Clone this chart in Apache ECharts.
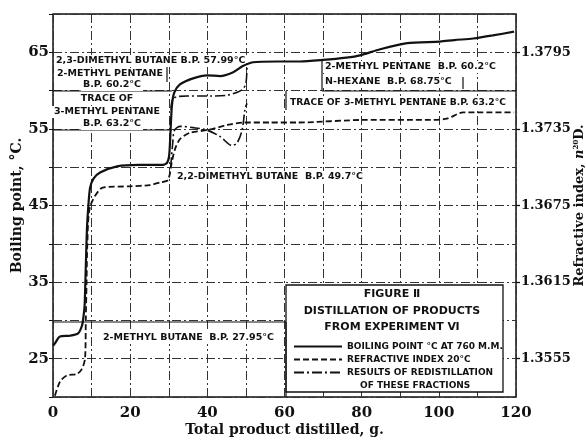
<!DOCTYPE html>
<html>
<head>
<meta charset="utf-8">
<script src="https://cdn.jsdelivr.net/npm/echarts@6/dist/echarts.min.js"></script>
<style>
  html, body { margin: 0; padding: 0; background: #fff; }
  #chart { width: 586px; height: 441px; }
</style>
</head>
<body>
<div id="chart"></div>
<script>
// boiling point (solid), grams distilled vs °C
const gBoil = [0, 0.5, 1.8, 4.4, 6.5, 7.5, 7.9, 8.2, 8.5, 8.8, 9.1, 9.6, 10.5, 12.2, 16.6, 22, 28.5, 29.6, 30.1, 30.4, 30.8, 31.4, 32.9, 36.3, 39.9, 43.3, 46.7, 49.2, 51.8, 58, 64, 70, 76, 79.6, 84.8, 91.8, 100.3, 104, 108.9, 114, 119.5];
const tBoil = [26.7, 27.0, 27.9, 28.0, 28.3, 29.3, 30.5, 32, 37, 42, 44.5, 47.3, 48.5, 49.3, 50.1, 50.3, 50.3, 50.6, 51.5, 54, 57.9, 59.7, 60.8, 61.6, 62.0, 61.9, 62.4, 63.2, 63.7, 63.8, 63.8, 64.0, 64.3, 64.6, 65.4, 66.2, 66.4, 66.6, 66.8, 67.2, 67.7];

// refractive index 20°C (dashed)
const gRefr = [0.5, 1.8, 3.6, 6.2, 7.5, 8.3, 8.5, 8.7, 8.9, 9.6, 12.9, 19.9, 25.1, 27.7, 29.8, 30.8, 31.6, 32.9, 35.5, 39.9, 45.1, 49.2, 56.2, 63.3, 80.4, 97.8, 102.1, 106.3, 110, 119.5];
const nRefr = [1.3526, 1.3537, 1.3542, 1.3543, 1.3547, 1.3555, 1.3585, 1.3615, 1.3645, 1.3674, 1.3689, 1.3690, 1.3691, 1.3693, 1.3695, 1.3709, 1.3719, 1.3727, 1.3732, 1.3734, 1.3738, 1.3740, 1.3740, 1.3740, 1.3742, 1.3742, 1.3743, 1.3748, 1.3748, 1.3748];

// redistillation results (dash-dot): boiling point and refractive index
const gRedistBoil = [30.6, 31.2, 34.8, 40.7, 45.1, 49.0, 50.0, 50.3];
const tRedistBoil = [57.5, 59.0, 59.3, 59.3, 59.4, 60.1, 61.0, 63.6];
const gRedistRefr = [30.5, 31.0, 31.5, 33.0, 36.3, 39.9, 43.3, 46.4, 47.7, 49.0, 49.8, 50.3];
const nRedistRefr = [1.3705, 1.3723, 1.3734, 1.3737, 1.3736, 1.3734, 1.3729, 1.3722, 1.3724, 1.3734, 1.3751, 1.3755];

const refrTicks = [1.3555, 1.3615, 1.3675, 1.3735, 1.3795];

const nameBoil = 'BOILING POINT °C AT 760 M.M.';
const nameRefr = 'REFRACTIVE INDEX 20°C';
const nameRedist = 'RESULTS OF REDISTILLATION';

function pairs(xs, ys) {
  return xs.map((x, i) => [x, ys[i]]);
}

const serif = 'DejaVu Serif';
const sans = 'DejaVu Sans';
const ink = '#111';
const gridLine = { color: '#333', width: 1, type: [9, 3, 2, 3] };

function note(text, x, y, align, size) {
  return {
    type: 'text', z: 1, x: x, y: y,
    style: {
      text: text, fill: ink, font: 'bold ' + (size || 9.5) + 'px "DejaVu Sans"',
      align: align || 'left', verticalAlign: 'middle',
      backgroundColor: '#fff', padding: [1, 2]
    }
  };
}
function title(text, x, y) {
  return {
    type: 'text', z: 1, x: x, y: y,
    style: { text: text, fill: ink, font: 'bold 11px "DejaVu Sans"', align: 'center', verticalAlign: 'middle' }
  };
}
function seg(x1, y1, x2, y2) {
  return { type: 'line', z: 1, shape: { x1: x1, y1: y1, x2: x2, y2: y2 }, style: { stroke: ink, lineWidth: 1.2 } };
}

const chart = echarts.init(document.getElementById('chart'), null, { renderer: 'canvas' });

const option = {
  backgroundColor: '#fff',
  animation: false,
  grid: {
    left: 53, right: 70, top: 14, bottom: 44,
    outerBoundsMode: 'none', containLabel: false,
    show: true, borderColor: ink, borderWidth: 1.5
  },
  legend: {
    left: 288, top: 337, orient: 'vertical', itemWidth: 48, itemHeight: 10, itemGap: 4,
    data: [nameBoil, nameRefr, nameRedist],
    itemStyle: { opacity: 0 },
    textStyle: { fontFamily: sans, fontWeight: 'bold', fontSize: 9, color: ink },
    selectedMode: false
  },
  xAxis: {
    type: 'value', min: 0, max: 120, interval: 10,
    name: 'Total product distilled, g.', nameLocation: 'middle', nameGap: 26, nameMoveOverlap: false,
    nameTextStyle: { fontFamily: serif, fontWeight: 'bold', fontSize: 14, color: ink },
    axisLine: { show: false },
    axisTick: { show: false },
    axisLabel: {
      margin: 9, fontFamily: serif, fontWeight: 'bold', fontSize: 15, color: ink,
      formatter: v => (v % 20 === 0 ? String(v) : '')
    },
    splitLine: { show: true, lineStyle: gridLine }
  },
  yAxis: [
    {
      type: 'value', min: 20, max: 70, interval: 5,
      name: 'Boiling point, °C.', nameLocation: 'middle', nameGap: 29, nameMoveOverlap: false,
      nameTextStyle: { fontFamily: serif, fontWeight: 'bold', fontSize: 14, color: ink },
      axisLine: { show: false },
      axisTick: { show: true, length: 4, lineStyle: { color: ink } },
      axisLabel: {
        margin: 4, fontFamily: serif, fontWeight: 'bold', fontSize: 15, color: ink,
        formatter: v => (v % 10 === 5 ? String(v) : '')
      },
      splitLine: { show: true, lineStyle: gridLine }
    },
    {
      type: 'value', min: 1.3525, max: 1.3825, position: 'right',
      name: '{a|Refractive index, }{i|n}{s|20}{a|D.}', nameLocation: 'middle', nameGap: 57, nameMoveOverlap: false,
      nameTextStyle: {
        rich: {
          a: { fontFamily: serif, fontWeight: 'bold', fontSize: 13, color: ink },
          i: { fontFamily: serif, fontStyle: 'italic', fontWeight: 'bold', fontSize: 13, color: ink },
          s: { fontFamily: serif, fontWeight: 'bold', fontSize: 7, color: ink, verticalAlign: 'top', padding: [0, 0, 7, 0] }
        }
      },
      axisLine: { show: false },
      axisTick: { show: true, length: 4, customValues: refrTicks, lineStyle: { color: ink, width: 1.3 } },
      axisLabel: {
        margin: 5, fontFamily: serif, fontWeight: 'bold', fontSize: 13, color: ink,
        customValues: refrTicks,
        formatter: v => v.toFixed(4)
      },
      splitLine: { show: false }
    }
  ],
  series: [
    {
      name: nameBoil, type: 'line', yAxisIndex: 0, smooth: 0.25, symbol: 'none',
      lineStyle: { color: ink, width: 2.2 }, itemStyle: { color: ink },
      data: pairs(gBoil, tBoil)
    },
    {
      name: nameRefr, type: 'line', yAxisIndex: 1, smooth: 0.25, symbol: 'none',
      lineStyle: { color: ink, width: 1.8, type: [6, 3] }, itemStyle: { color: ink },
      data: pairs(gRefr, nRefr)
    },
    {
      name: nameRedist, type: 'line', yAxisIndex: 0, smooth: 0.3, symbol: 'none',
      lineStyle: { color: ink, width: 1.6, type: [10, 3, 2, 3] }, itemStyle: { color: ink },
      data: pairs(gRedistBoil, tRedistBoil)
    },
    {
      name: nameRedist, type: 'line', yAxisIndex: 1, smooth: 0.3, symbol: 'none',
      lineStyle: { color: ink, width: 1.6, type: [10, 3, 2, 3] }, itemStyle: { color: ink },
      data: pairs(gRedistRefr, nRedistRefr)
    }
  ],
  graphic: [
    // legend box
    { type: 'rect', z: 1, shape: { x: 286, y: 285, width: 217, height: 107 }, style: { fill: '#fff', stroke: ink, lineWidth: 1.3 } },
    title('FIGURE Ⅱ', 392, 294),
    title('DISTILLATION OF PRODUCTS', 392, 311),
    title('FROM EXPERIMENT Ⅵ', 392, 327),
    { type: 'text', z: 1, x: 360, y: 386, style: { text: 'OF THESE FRACTIONS', fill: ink, font: 'bold 9px "DejaVu Sans"', align: 'left', verticalAlign: 'middle' } },
    // label boxes
    seg(53, 91, 172, 91), seg(53, 130, 172, 130), seg(167, 67, 167, 82),
    seg(322, 91, 516, 91), seg(322, 60, 322, 91), seg(463, 77, 463, 89), seg(286, 91, 286, 110),
    seg(53, 322, 286, 322), seg(286, 322, 286, 397),
    note('2,3-DIMETHYL BUTANE B.P. 57.99°C', 54, 61),
    note('2-METHYL PENTANE', 110, 74, 'center'),
    note('B.P. 60.2°C', 112, 85, 'center'),
    note('TRACE OF', 107, 99, 'center'),
    note('3-METHYL PENTANE', 107, 112, 'center'),
    note('B.P. 63.2°C', 112, 124, 'center'),
    note('2-METHYL PENTANE  B.P. 60.2°C', 323, 67),
    note('N-HEXANE  B.P. 68.75°C', 323, 82),
    note('TRACE OF 3-METHYL PENTANE B.P. 63.2°C', 288, 103, 'left', 9.2),
    note('2,2-DIMETHYL BUTANE  B.P. 49.7°C', 175, 177),
    note('2-METHYL BUTANE  B.P. 27.95°C', 101, 338)
  ]
};

chart.setOption(option);
window.addEventListener('resize', chart.resize);
</script>
</body>
</html>
